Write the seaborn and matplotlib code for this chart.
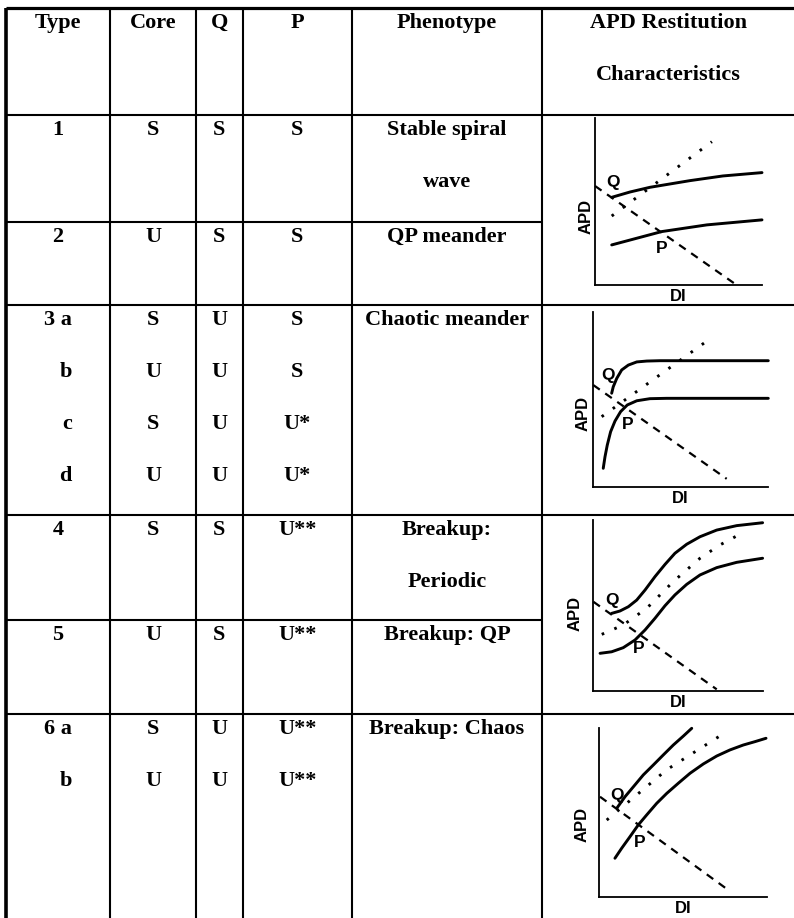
import matplotlib
matplotlib.use("Agg")
import matplotlib.pyplot as plt
import seaborn as sns
import pandas as pd

# ---------------- table content ----------------
header = ["Type", "Core", "Q", "P", "Phenotype", "APD Restitution"]
header_line2 = "Characteristics"
type_labels = ["1", "2", "3 a", "b", "c", "d", "4", "5", "6 a", "b"]
core_state = ["S", "U", "S", "U", "S", "U", "S", "U", "S", "U"]
q_state = ["S", "S", "U", "U", "U", "U", "S", "S", "U", "U"]
p_state = ["S", "S", "S", "S", "U*", "U*", "U**", "U**", "U**", "U**"]
row_group = [0, 1, 2, 2, 2, 2, 3, 4, 5, 5]
sub_index = [0, 0, 0, 1, 2, 3, 0, 0, 0, 1]
phenotypes = [["Stable spiral", "wave"], ["QP meander"], ["Chaotic meander"],
              ["Breakup:", "Periodic"], ["Breakup: QP"], ["Breakup: Chaos"]]

# ---------------- APD restitution sketches (DI, APD) ----------------
i1_upper = [(10, 52.5), (21, 55.7), (32.9, 58.5), (56.9, 62.5), (76.6, 65.3), (100, 67.3)]
i1_lower = [(10, 24), (40, 32), (67, 36), (100, 39)]
i1_dash = [(0, 59.3), (84.8, 0)]
i1_dot = [(10, 41.3), (70, 85.8)]
i1_q = (11, 61.4)
i1_p = (40, 22)

i2_upper = [(10.8, 53.4), (11.7, 57.1), (13.7, 61.9), (16.5, 66.7), (20.3, 69.5),
            (25.1, 71.3), (30.8, 71.8), (38.3, 72), (100, 72)]
i2_lower = [(6.0, 10.5), (7.0, 17.1), (8.3, 23.8), (10.2, 31.4), (12.7, 37.5),
            (15.9, 42.9), (19.7, 46.7), (25.1, 49.1), (32.6, 50.3), (42.1, 50.5),
            (100, 50.5)]
i2_dash = [(0.3, 58.1), (76.3, 4.5)]
i2_dot = [(5.1, 40), (65.8, 83.8)]
i2_q = (8.9, 63.3)
i2_p = (19.7, 35.3)

i3_upper = [(11.1, 45.3), (16.0, 46.7), (20.9, 49.2), (25.8, 53.1), (30.7, 59.0),
            (36.5, 66.8), (42.4, 74.0), (48.2, 80.5), (55.1, 85.8), (62.9, 90.2),
            (72.7, 94.1), (84.4, 96.7), (99.6, 98.4)]
i3_lower = [(4.3, 21.9), (11.1, 22.8), (17.9, 25.2), (24.8, 29.7), (30.7, 35.6),
            (36.5, 42.4), (42.4, 49.8), (48.2, 56.1), (55.1, 62.3), (62.9, 67.8),
            (72.7, 72.1), (84.4, 75.2), (99.6, 77.6)]
i3_dash = [(0.4, 52.1), (72.7, 0.8)]
i3_dot = [(5.3, 33.0), (17.9, 38.5), (31.7, 48.3), (47.2, 63.9), (62.9, 77.6),
          (74.6, 85.4), (87.3, 92.2)]
i3_q = (11.1, 53.1)
i3_p = (26.7, 24.8)

i4_upper = [(10.6, 52.7), (15.5, 59.5), (20.5, 65.4), (26.4, 72.4), (32.4, 78.3),
            (38.3, 84.2), (44.3, 90.1), (50.3, 95.4), (55.3, 100)]
i4_lower = [(9.5, 23.1), (13.5, 29.0), (18.5, 35.9), (23.4, 42.8), (28.4, 48.7),
            (34.4, 55.6), (40.4, 61.5), (47.3, 67.5), (54.3, 73.4), (62.2, 78.9),
            (70.2, 83.6), (78.1, 87.2), (86.0, 90.1), (93.0, 92.1), (99.6, 94.1)]
i4_dash = [(0.6, 59.5), (77.1, 4.3)]
i4_dot = [(4.6, 45.7), (40.4, 75.5), (76.1, 98)]
i4_q = (10.6, 60.5)
i4_p = (24.4, 32.3)

insets = [
    dict(upper=i1_upper, lower=i1_lower, dash=i1_dash, dot=i1_dot, q=i1_q, p=i1_p),
    dict(upper=i2_upper, lower=i2_lower, dash=i2_dash, dot=i2_dot, q=i2_q, p=i2_p),
    dict(upper=i3_upper, lower=i3_lower, dash=i3_dash, dot=i3_dot, q=i3_q, p=i3_p),
    dict(upper=i4_upper, lower=i4_lower, dash=i4_dash, dot=i4_dot, q=i4_q, p=i4_p),
]

# ---------------- layout (pixels) ----------------
W, H = 794, 918
col_edges = [6, 110, 196, 243, 352, 542, 794]
row_edges = [8, 115, 222, 305, 515, 620, 714, 918]
partial_lines = [222, 620]          # lines not crossing the APD column
first_base = 20                      # baseline offset from row top
line_step = 52                       # sub-line spacing
inset_frames = [(595, 762, 118, 285), (592.7, 768.3, 311.7, 486.7),
                (592.7, 763.3, 520, 690.7), (599, 766.7, 728.3, 897.3)]
apd_offset = [9.3, 9.4, 17.7, 17.3]
apd_rel_y = [0.41, 0.42, 0.45, 0.43]

sns.set_style("white")
serif = ["Liberation Serif", "DejaVu Serif"]
sans = ["Liberation Sans", "DejaVu Sans"]
plt.rcParams["font.family"] = serif
plt.rcParams["text.color"] = "black"
plt.rcParams["axes.labelcolor"] = "black"

fig = plt.figure(figsize=(W / 100, H / 100), dpi=100)
ax0 = fig.add_axes([0, 0, 1, 1])
ax0.set_xlim(0, W)
ax0.set_ylim(H, 0)
ax0.axis("off")

# grid lines
ax0.plot([col_edges[0], W], [row_edges[0], row_edges[0]], color="black", lw=2.3, solid_capstyle="butt")
ax0.plot([col_edges[0], col_edges[0]], [row_edges[0], H], color="black", lw=2.6, solid_capstyle="butt")
for x in col_edges[1:-1]:
    ax0.plot([x, x], [row_edges[0], H], color="black", lw=1.5, solid_capstyle="butt")
for y in row_edges[1:-1]:
    x_end = col_edges[5] if y in partial_lines else W
    ax0.plot([col_edges[0], x_end], [y, y], color="black", lw=1.5, solid_capstyle="butt")

centers = [(col_edges[i] + col_edges[i + 1]) / 2 for i in range(6)]
tkw = dict(fontsize=16, fontweight="bold", family=serif, va="baseline", color="black")

# header
for c, lab in zip(centers, header):
    ax0.text(c, row_edges[0] + first_base, lab, ha="center", **tkw)
ax0.text(centers[5], row_edges[0] + first_base + line_step, header_line2, ha="center", **tkw)

# body
for lab, co, qq, pp, g, s in zip(type_labels, core_state, q_state, p_state, row_group, sub_index):
    yb = row_edges[g + 1] + first_base + s * line_step
    if s == 0:
        ax0.text(centers[0], yb, lab, ha="center", **tkw)
    else:
        ax0.text(centers[0] + 14, yb, lab, ha="right", **tkw)
    ax0.text(centers[1], yb, co, ha="center", **tkw)
    ax0.text(centers[2], yb, qq, ha="center", **tkw)
    ax0.text(centers[3], yb, pp, ha="center", **tkw)

for g, lines in enumerate(phenotypes):
    for s, txt in enumerate(lines):
        ax0.text(centers[4], row_edges[g + 1] + first_base + s * line_step, txt, ha="center", **tkw)

# insets
for k, (d, fr) in enumerate(zip(insets, inset_frames)):
    x0, x1, yt, yb = fr
    ax = fig.add_axes([x0 / W, 1 - yb / H, (x1 - x0) / W, (yb - yt) / H])
    ax.set_facecolor("none")
    ax.set_xlim(0, 100)
    ax.set_ylim(0, 100)
    for key, style in [("upper", dict(lw=2.1, linestyle="-")),
                       ("lower", dict(lw=2.1, linestyle="-")),
                       ("dash", dict(lw=1.6, linestyle=(0, (3.6, 3.0)))),
                       ("dot", dict(lw=2.1, linestyle=(0, (0.9, 3.8))))]:
        df = pd.DataFrame(d[key], columns=["DI", "APD"])
        sns.lineplot(data=df, x="DI", y="APD", ax=ax, color="black", sort=False,
                     estimator=None, clip_on=False, solid_joinstyle="round", **style)
    ax.text(d["q"][0], d["q"][1], "Q", ha="center", va="center", fontsize=12.5,
            fontweight="bold", family=sans, color="black")
    ax.text(d["p"][0], d["p"][1], "P", ha="center", va="center", fontsize=12.5,
            fontweight="bold", family=sans, color="black")
    ax.set_xticks([])
    ax.set_yticks([])
    ax.set_xlabel("DI", fontsize=12, fontweight="bold", family=sans, va="center", color="black")
    ax.xaxis.set_label_coords(0.5, -11.5 / (yb - yt))
    ax.set_ylabel("APD", fontsize=12, fontweight="bold", family=sans, va="center", color="black")
    ax.yaxis.set_label_coords(-apd_offset[k] / (x1 - x0), apd_rel_y[k])
    sns.despine(ax=ax)
    for sp in ["left", "bottom"]:
        ax.spines[sp].set_linewidth(1.3)
        ax.spines[sp].set_color("black")

fig.savefig("out.png", dpi=100)
